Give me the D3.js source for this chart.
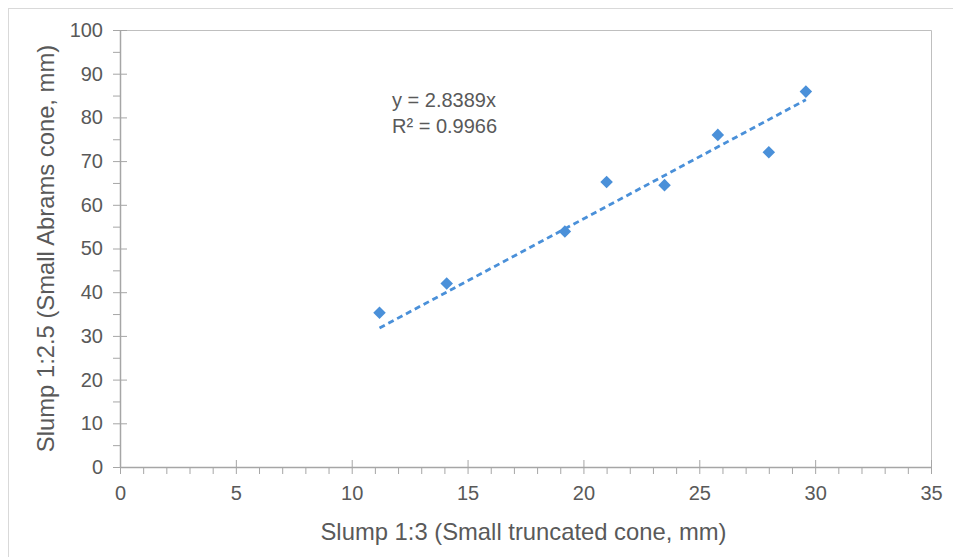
<!DOCTYPE html>
<html>
<head>
<meta charset="utf-8">
<script src="https://cdn.jsdelivr.net/npm/d3@7"></script>
<style>
  body { margin: 0; background: #fff; }
  svg { display: block; font-family: "Liberation Sans", Arial, sans-serif; }
</style>
</head>
<body>
<div id="chart"></div>
<script>
// Slump measurements: small truncated cone (x) vs small Abrams cone (y)
const slumpTruncated = [11.2, 14.1, 19.2, 21.0, 23.5, 25.8, 28.0, 29.6];
const slumpAbrams = [35.3, 42.0, 53.9, 65.2, 64.5, 76.0, 72.0, 85.9];
const trendSlope = 2.8389;
const trendR2 = 0.9966;
const xTicks = [0, 5, 10, 15, 20, 25, 30, 35];
const yTicks = [0, 10, 20, 30, 40, 50, 60, 70, 80, 90, 100];

const W = 953, H = 557;
const margin = { top: 30, right: 22, bottom: 90, left: 120 };
const width = W - margin.left - margin.right;
const height = H - margin.top - margin.bottom;

const svg = d3.select("#chart").append("svg")
    .attr("width", W)
    .attr("height", H);

// outer chart frame
svg.append("rect")
    .attr("x", 8.5).attr("y", 8.5)
    .attr("width", W).attr("height", H)
    .attr("fill", "none")
    .attr("stroke", "#d9d9d9");

const g = svg.append("g")
    .attr("transform", `translate(${margin.left},${margin.top})`);

const x = d3.scaleLinear().domain([0, 35]).range([0, width]);
const y = d3.scaleLinear().domain([0, 100]).range([height, 0]);

// plot-area border (top and right)
g.append("path")
    .attr("d", `M0,0.5H${width + 0.5}V${height}`)
    .attr("fill", "none")
    .attr("stroke", "#bfbfbf");

const axisColor = "#a6a6a6";
const textColor = "#595959";

// minor ticks
const xMinor = d3.range(0, 36, 1).filter(v => v % 5 !== 0);
const yMinor = d3.range(5, 100, 10);

g.append("g")
    .attr("transform", `translate(0,${height})`)
    .call(d3.axisBottom(x).tickValues(xMinor).tickSize(7).tickFormat(""))
    .call(a => a.select(".domain").remove())
    .selectAll("line").attr("stroke", axisColor);

g.append("g")
    .call(d3.axisLeft(y).tickValues(yMinor).tickSize(7).tickFormat(""))
    .call(a => a.select(".domain").remove())
    .selectAll("line").attr("stroke", axisColor);

// major axes with crossing ticks
const xAxis = g.append("g")
    .attr("transform", `translate(0,${height})`)
    .call(d3.axisBottom(x).tickValues(xTicks).tickSize(7).tickSizeOuter(0).tickPadding(12));
xAxis.selectAll(".tick line").attr("y1", -7);

const yAxis = g.append("g")
    .call(d3.axisLeft(y).tickValues(yTicks).tickSize(7).tickSizeOuter(0).tickPadding(10));
yAxis.selectAll(".tick line").attr("x1", 7);

[xAxis, yAxis].forEach(a => {
    a.select(".domain").attr("stroke", axisColor).attr("stroke-width", 1.5);
    a.selectAll(".tick line").attr("stroke", axisColor);
    a.selectAll("text")
        .attr("fill", textColor)
        .style("font-size", "20px");
});

// linear trendline through origin
const xMin = d3.min(slumpTruncated), xMax = d3.max(slumpTruncated);
g.append("line")
    .attr("x1", x(xMin)).attr("y1", y(trendSlope * xMin))
    .attr("x2", x(xMax)).attr("y2", y(trendSlope * xMax))
    .attr("stroke", "#4a90d9")
    .attr("stroke-width", 2.8)
    .attr("stroke-dasharray", "6,4");

// data points as diamonds
const diamond = d3.symbol().type(d3.symbolDiamond2).size(100);
g.selectAll(".pt")
    .data(slumpTruncated.map((v, i) => [v, slumpAbrams[i]]))
    .join("path")
    .attr("class", "pt")
    .attr("d", diamond)
    .attr("transform", d => `translate(${x(d[0])},${y(d[1])})`)
    .attr("fill", "#4a90d9");

// trendline equation
const eq = g.append("text")
    .attr("fill", textColor)
    .style("font-size", "20px");
eq.append("tspan").attr("x", 272).attr("y", 77).text(`y = ${trendSlope}x`);
eq.append("tspan").attr("x", 272).attr("y", 103).text(`R² = ${trendR2}`);

// axis titles
svg.append("text")
    .attr("x", margin.left + width / 2 - 2)
    .attr("y", 540)
    .attr("text-anchor", "middle")
    .attr("fill", textColor)
    .style("font-size", "23.8px")
    .text("Slump 1:3 (Small truncated cone, mm)");

svg.append("text")
    .attr("transform", `translate(54,${margin.top + height / 2}) rotate(-90)`)
    .attr("text-anchor", "middle")
    .attr("fill", textColor)
    .style("font-size", "23.8px")
    .text("Slump 1:2.5 (Small Abrams cone, mm)");
</script>
</body>
</html>
